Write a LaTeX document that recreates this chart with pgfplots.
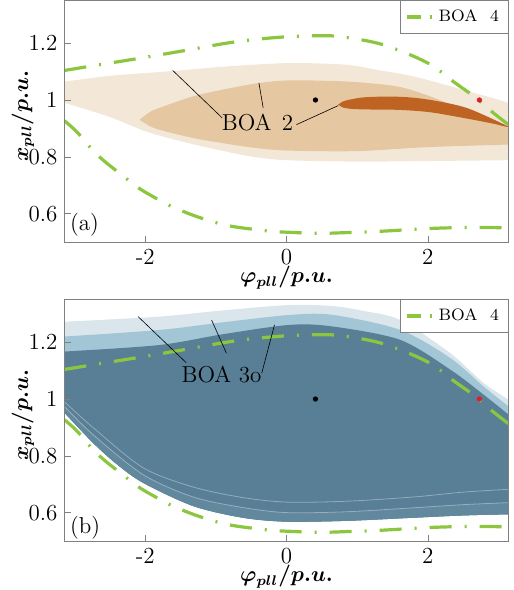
\documentclass[border=0pt]{standalone}
\usepackage{fontspec}
\usepackage{bm}
\usepackage{pgfplots}
\pgfplotsset{compat=1.18}
\errorcontextlines=100
\definecolor{beigeL}{HTML}{F3E7D8}
\definecolor{beigeM}{HTML}{E5C8A2}
\definecolor{orangeD}{HTML}{BF6322}
\definecolor{blueL}{HTML}{DAE6EC}
\definecolor{blueM}{HTML}{A3C6D6}
\definecolor{blueD}{HTML}{587F96}
\definecolor{blueB}{HTML}{62889E}
\definecolor{boagreen}{HTML}{8CC63F}
\definecolor{reddot}{HTML}{DD1F26}
\pgfplotsset{
  common/.style={
    width=222pt, height=121pt, scale only axis,
    xmin=-3.1416, xmax=3.1416, ymin=0.5, ymax=1.352,
    xtick={-2,0,2}, ytick={0.6,0.8,1,1.2},
    xticklabels={-2,0,2}, yticklabels={0.6,0.8,1,1.2},
    tick pos=left, tick align=inside, major tick length=3pt,
    axis line style={gray}, tick style={gray},
    tick label style={font=\fontsize{11.5}{13}\selectfont},
    xlabel={$\bm{\varphi_{pll}/p.u.}$},
    ylabel={$\bm{x_{pll}/p.u.}$},
    xlabel style={font=\fontsize{10.5}{12}\selectfont, at={(axis description cs:0.5,-0.147)}, anchor=center},
    ylabel style={font=\fontsize{10.5}{12}\selectfont, at={(axis description cs:-0.0935,0.52)}, anchor=center},
    axis on top,
    legend style={at={(1,1)}, anchor=north east, draw=gray, fill=white,
      font=\fontsize{8.3}{10}\selectfont, inner sep=2.6pt},
    legend cell align=left,
  },
  boa4/.style={boagreen, line width=1.6pt,
    dash pattern=on 11pt off 6.5pt on 1pt off 6.5pt, smooth,
    legend image code/.code={\draw[boagreen, line width=1.6pt, dash pattern=on 7pt off 4.5pt on 1pt off 3pt] (0pt,0pt) -- (13pt,0pt);}},
}
\begin{document}
\begin{tikzpicture}
\path[use as bounding box] (0pt,0pt) rectangle (257pt,-295pt);
\begin{axis}[common, at={(32.25pt,0pt)}, anchor=north west]
\addplot[fill=beigeL, draw=none, smooth, forget plot] coordinates {(-3.3,1.065) (-3.1416,1.065) (-2.5,1.085) (-1.61,1.102) (-0.8,1.119) (0.05,1.130) (0.85,1.124) (1.3,1.105) (1.80,1.083) (2.5,1.036) (3.1416,0.99) (3.3,0.97) (3.3,0.788) (3.1416,0.788) (2,0.785) (1,0.783) (0,0.788) (-0.5,0.801) (-1,0.826) (-1.5,0.855) (-2.0,0.89) (-2.5,0.94) (-3.1416,0.99) (-3.3,1.0)} -- cycle;
\addplot[fill=beigeM, draw=none, smooth, forget plot] coordinates {(-2.08,0.93) (-1.95,0.955) (-1.80,0.972) (-1.32,1.013) (-0.85,1.039) (-0.38,1.06) (0.05,1.069) (0.85,1.065) (1.56,1.048) (2.03,1.013) (2.5,0.966) (3.1416,0.905) (3.3,0.88) (3.3,0.843) (3.1416,0.843) (2,0.834) (1,0.82) (0,0.822) (-0.5,0.833) (-0.95,0.85) (-1.32,0.866) (-1.8,0.895) (-1.95,0.91)} -- cycle;
\addplot[fill=orangeD, draw=none, smooth, forget plot] coordinates {(0.73,0.983) (0.8,0.995) (0.95,1.004) (1.13,1.01) (1.5,1.012) (1.84,1.007) (2.2,0.993) (2.55,0.972) (2.9,0.935) (3.1416,0.905) (2.9,0.918) (2.5,0.937) (2.03,0.957) (1.61,0.965) (1.3,0.966) (0.95,0.968) (0.8,0.973)} -- cycle;
\addplot[boa4] coordinates {(-3.1416,1.104) (-2.65,1.124) (-2.15,1.144) (-1.44,1.174) (-0.9,1.198) (-0.52,1.211) (-0.09,1.221) (0.38,1.226) (0.69,1.225) (1.08,1.211) (1.39,1.193) (1.77,1.157) (2.03,1.126) (2.21,1.095) (2.36,1.065) (2.62,1.019) (2.77,0.989) (2.93,0.954) (3.1416,0.913)};
\addlegendentry{BOA\hspace{0.75em}4}
\addplot[boa4, forget plot] coordinates {(-3.1416,0.927) (-2.96,0.886) (-2.74,0.822) (-2.56,0.781) (-2.29,0.728) (-2.08,0.688) (-1.84,0.653) (-1.61,0.623) (-1.32,0.594) (-1.04,0.571) (-0.77,0.555) (-0.45,0.544) (-0.19,0.537) (0.05,0.534) (0.35,0.531) (0.61,0.531) (0.94,0.534) (1.19,0.536) (1.5,0.540) (1.75,0.544) (2.07,0.548) (2.33,0.55) (2.64,0.551) (2.89,0.551) (3.1416,0.549)};
\addplot[only marks, mark=*, mark size=1.1pt, black, forget plot] coordinates {(0.41,1.0)};
\addplot[only marks, mark=*, mark size=1.1pt, reddot, forget plot] coordinates {(2.73,1.0)};
\draw[black, line width=0.3pt] (axis cs:-0.91,0.937) -- (axis cs:-1.61,1.104);
\draw[black, line width=0.3pt] (axis cs:-0.33,0.972) -- (axis cs:-0.39,1.06);
\draw[black, line width=0.3pt] (axis cs:0.14,0.913) -- (axis cs:0.73,0.98);
\node[font=\fontsize{11.5}{13}\selectfont] at (axis cs:-0.41,0.921) {BOA\hspace{0.45em}2};
\node[font=\fontsize{11.5}{13}\selectfont] at (axis cs:-2.86,0.562) {(a)};
\end{axis}
\begin{axis}[common, at={(32.25pt,-149.5pt)}, anchor=north west]
\addplot[fill=blueL, draw=none, smooth, forget plot] coordinates {(-3.3,1.272) (-3.1416,1.272) (-1.8,1.29) (-0.9,1.312) (0.05,1.331) (0.66,1.327) (1.09,1.31) (1.61,1.278) (2.32,1.161) (2.79,1.056) (3.1416,0.997) (3.3,0.96) (3.3,0.594) (3.1416,0.594) (2.5,0.59) (1.8,0.582) (0.85,0.571) (0,0.568) (-0.62,0.582) (-1.32,0.623) (-2.03,0.705) (-2.4,0.77) (-2.74,0.846) (-3.1416,0.951) (-3.3,0.99)} -- cycle;
\addplot[fill=blueM, draw=none, smooth, forget plot] coordinates {(-3.3,1.22) (-3.1416,1.22) (-1.8,1.243) (-0.9,1.27) (0.05,1.296) (0.66,1.296) (1.61,1.243) (2.32,1.144) (2.79,1.044) (3.1416,0.974) (3.3,0.94) (3.3,0.594) (3.1416,0.594) (2.5,0.59) (1.8,0.582) (0.85,0.571) (0,0.568) (-0.62,0.582) (-1.32,0.623) (-2.03,0.705) (-2.4,0.77) (-2.74,0.846) (-3.1416,0.951) (-3.3,0.99)} -- cycle;
\addplot[fill=blueD, draw=none, smooth, forget plot] coordinates {(-3.3,1.167) (-3.1416,1.167) (-1.8,1.19) (-0.9,1.228) (0.05,1.261) (0.66,1.255) (1.61,1.208) (2.32,1.103) (2.79,1.015) (3.1416,0.945) (3.3,0.91) (3.3,0.594) (3.1416,0.594) (2.5,0.59) (1.8,0.582) (0.85,0.571) (0,0.568) (-0.62,0.582) (-1.32,0.623) (-2.03,0.705) (-2.4,0.77) (-2.74,0.846) (-3.1416,0.951) (-3.3,0.99)} -- cycle;
\addplot[fill=blueB, draw=none, smooth, forget plot] coordinates {(-3.3,1.0) (-3.1416,0.974) (-2.74,0.875) (-2.03,0.734) (-1.32,0.655) (-0.62,0.618) (0,0.6) (0.85,0.603) (1.8,0.617) (2.5,0.628) (3.1416,0.635) (3.3,0.636) (3.3,0.594) (3.1416,0.594) (2.5,0.59) (1.8,0.582) (0.85,0.571) (0,0.568) (-0.62,0.582) (-1.32,0.623) (-2.03,0.705) (-2.4,0.77) (-2.74,0.846) (-3.1416,0.951) (-3.3,0.99)} -- cycle;
\addplot[white, opacity=0.35, line width=0.4pt, smooth, forget plot] coordinates {(-3.1416,0.99) (-2.74,0.9) (-2.03,0.758) (-1.32,0.69) (-0.62,0.653) (0,0.637) (0.85,0.64) (1.8,0.655) (2.5,0.672) (3.1416,0.682)};
\addplot[white, opacity=0.35, line width=0.4pt, smooth, forget plot] coordinates {(-3.1416,0.974) (-2.74,0.875) (-2.03,0.734) (-1.32,0.655) (-0.62,0.618) (0,0.6) (0.85,0.603) (1.8,0.617) (2.5,0.628) (3.1416,0.635)};
\addplot[boa4] coordinates {(-3.1416,1.104) (-2.65,1.124) (-2.15,1.144) (-1.44,1.174) (-0.9,1.198) (-0.52,1.211) (-0.09,1.221) (0.38,1.226) (0.69,1.225) (1.08,1.211) (1.39,1.193) (1.77,1.157) (2.03,1.126) (2.21,1.095) (2.36,1.065) (2.62,1.019) (2.77,0.989) (2.93,0.954) (3.1416,0.913)};
\addlegendentry{BOA\hspace{0.75em}4}
\addplot[boa4, forget plot] coordinates {(-3.1416,0.927) (-2.96,0.886) (-2.74,0.822) (-2.56,0.781) (-2.29,0.728) (-2.08,0.688) (-1.84,0.653) (-1.61,0.623) (-1.32,0.594) (-1.04,0.571) (-0.77,0.555) (-0.45,0.544) (-0.19,0.537) (0.05,0.534) (0.35,0.531) (0.61,0.531) (0.94,0.534) (1.19,0.536) (1.5,0.540) (1.75,0.544) (2.07,0.548) (2.33,0.55) (2.64,0.551) (2.89,0.551) (3.1416,0.549)};
\addplot[only marks, mark=*, mark size=1.1pt, black, forget plot] coordinates {(0.41,1.0)};
\addplot[only marks, mark=*, mark size=1.1pt, reddot, forget plot] coordinates {(2.73,1.0)};
\draw[black, line width=0.3pt] (axis cs:-1.42,1.128) -- (axis cs:-2.10,1.29);
\draw[black, line width=0.3pt] (axis cs:-0.85,1.161) -- (axis cs:-1.06,1.278);
\draw[black, line width=0.3pt] (axis cs:-0.35,1.091) -- (axis cs:-0.17,1.261);
\node[font=\fontsize{11.5}{13}\selectfont] at (axis cs:-0.92,1.085) {BOA 3o};
\node[font=\fontsize{11.5}{13}\selectfont] at (axis cs:-2.85,0.547) {(b)};
\end{axis}
\end{tikzpicture}
\end{document}
